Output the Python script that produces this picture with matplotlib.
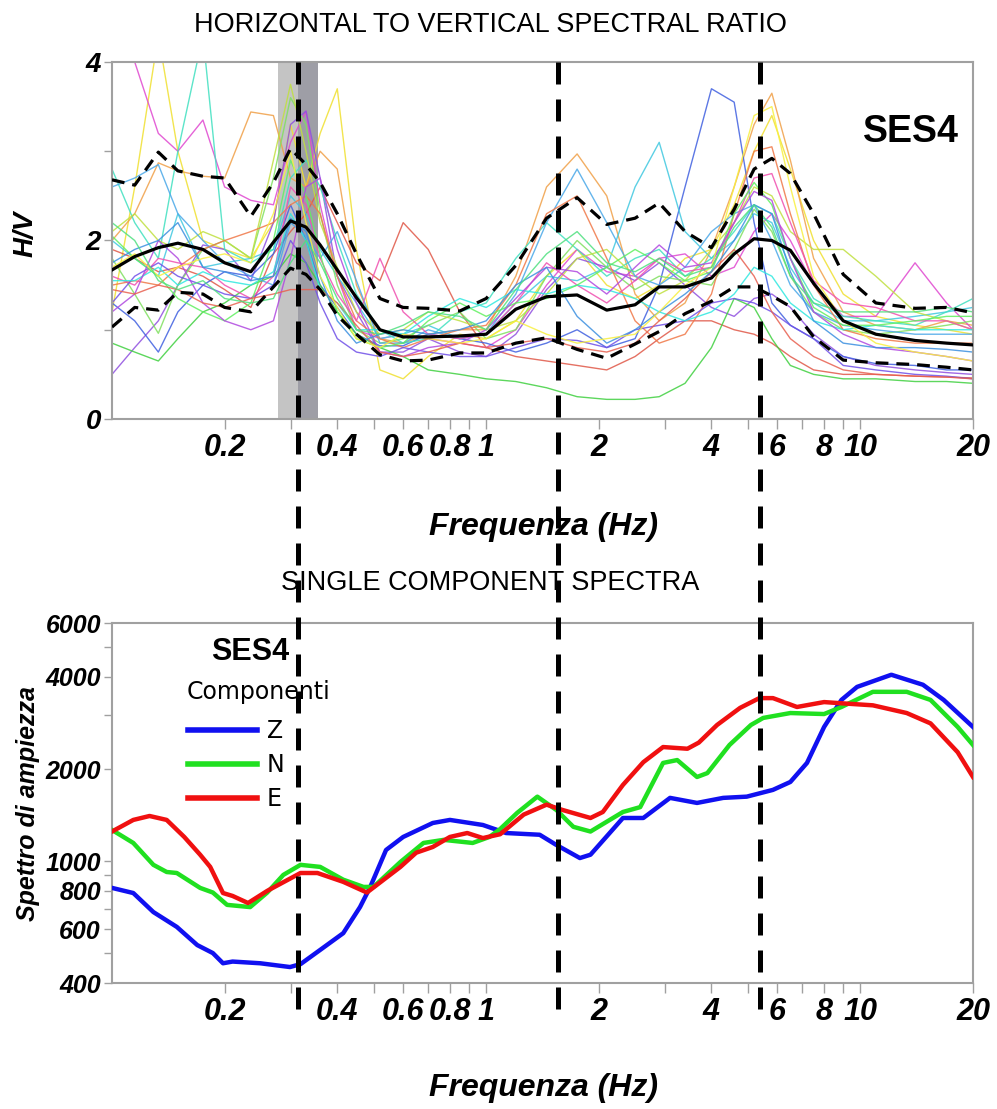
import numpy as np
import matplotlib
matplotlib.use("Agg")
import matplotlib.pyplot as plt
from matplotlib.ticker import FixedLocator, FixedFormatter, NullFormatter
from matplotlib.transforms import blended_transform_factory
from matplotlib.lines import Line2D

plt.rcParams['font.family'] = ['Liberation Sans', 'DejaVu Sans']
plt.rcParams['font.weight'] = 'bold'
plt.rcParams['font.style'] = 'italic'

# ---------------- H/V data ----------------
freq = [0.10, 0.115, 0.133, 0.15, 0.175, 0.2, 0.235, 0.27, 0.30, 0.33, 0.36, 0.40,
        0.45, 0.52, 0.6, 0.7, 0.85, 1.0, 1.2, 1.45, 1.75, 2.1, 2.5, 2.9, 3.4, 4.0,
        4.6, 5.2, 5.8, 6.5, 7.5, 9.0, 11, 14, 17, 20]

hv_mean = [1.67, 1.82, 1.92, 1.97, 1.90, 1.75, 1.65, 1.98, 2.22, 2.15, 1.95, 1.67,
           1.36, 1.00, 0.92, 0.92, 0.93, 0.95, 1.23, 1.37, 1.39, 1.22, 1.28, 1.48, 1.48, 1.58,
           1.85, 2.02, 2.00, 1.89, 1.52, 1.10, 0.95, 0.88, 0.85, 0.83]
hv_upper = [2.68, 2.62, 2.99, 2.78, 2.72, 2.70, 2.27, 2.65, 3.03, 2.85, 2.65, 2.30,
            1.85, 1.35, 1.25, 1.24, 1.21, 1.35, 1.72, 2.25, 2.48, 2.18, 2.25, 2.42, 2.10, 1.92,
            2.35, 2.80, 2.92, 2.75, 2.30, 1.62, 1.30, 1.24, 1.25, 1.19]
hv_lower = [1.03, 1.25, 1.22, 1.42, 1.40, 1.25, 1.20, 1.48, 1.69, 1.62, 1.45, 1.16,
            0.95, 0.72, 0.65, 0.66, 0.74, 0.74, 0.85, 0.91, 0.78, 0.68, 0.84, 0.98, 1.18, 1.32,
            1.48, 1.48, 1.38, 1.26, 0.92, 0.66, 0.63, 0.61, 0.58, 0.55]

win_01 = [1.2, 2.6, 4.3, 3.0, 2.0, 1.9, 1.8, 2.2, 3.3, 2.6, 3.2, 3.7, 1.9, 0.55, 0.45, 0.7, 0.95, 0.9, 1.1, 1.6, 1.9, 1.5, 1.35, 1.5, 1.8, 1.9, 2.4, 3.0, 3.4, 2.8, 2.0, 1.4, 1.15, 1.05, 1.0, 0.95]
win_02 = [2.0, 2.3, 2.87, 2.78, 2.72, 2.70, 3.44, 3.4, 2.7, 2.6, 3.0, 2.8, 1.5, 0.9, 0.85, 0.95, 1.0, 1.0, 1.6, 2.6, 2.97, 2.5, 1.4, 1.1, 1.3, 1.9, 2.6, 3.3, 3.65, 2.9, 1.8, 1.2, 1.05, 1.0, 1.1, 1.05]
win_03 = [1.9, 1.8, 1.65, 1.7, 1.6, 1.45, 1.25, 1.85, 2.1, 2.3, 2.6, 2.2, 1.75, 1.55, 2.2, 1.9, 1.2, 0.8, 0.7, 0.65, 0.6, 0.55, 0.7, 0.9, 1.1, 1.1, 1.0, 0.95, 0.85, 0.7, 0.55, 0.5, 0.5, 0.48, 0.47, 0.46]
win_04 = [4.3, 4.0, 3.2, 3.0, 3.35, 2.6, 2.45, 2.4, 3.1, 3.45, 2.4, 1.6, 1.0, 0.9, 0.95, 0.9, 0.85, 0.8, 1.0, 1.5, 1.9, 1.65, 1.6, 1.8, 1.85, 1.6, 1.7, 2.1, 2.3, 2.0, 1.5, 1.15, 1.15, 1.75, 1.3, 1.0]
win_05 = [0.5, 0.8, 1.1, 1.5, 1.95, 1.9, 1.55, 2.2, 3.3, 3.45, 2.7, 1.6, 1.2, 0.75, 0.75, 0.9, 0.75, 0.7, 0.95, 1.45, 1.8, 1.7, 1.55, 1.75, 1.5, 1.25, 1.15, 1.35, 1.4, 1.25, 0.95, 0.7, 0.6, 0.55, 0.52, 0.5]
win_06 = [1.3, 1.1, 0.75, 1.2, 1.5, 1.65, 1.6, 1.85, 2.4, 2.0, 1.5, 1.25, 0.95, 0.82, 0.82, 0.95, 0.9, 0.85, 0.75, 0.85, 1.0, 0.8, 0.9, 1.5, 2.6, 3.7, 3.55, 2.2, 1.3, 1.05, 0.9, 0.7, 0.62, 0.6, 0.55, 0.55]
win_07 = [2.0, 1.8, 1.6, 2.3, 1.7, 1.75, 1.8, 1.9, 2.5, 2.3, 1.9, 1.6, 1.3, 0.9, 0.95, 1.05, 0.9, 0.95, 1.3, 1.6, 1.55, 1.7, 2.6, 3.1, 2.1, 1.8, 2.0, 2.3, 2.2, 1.7, 1.3, 1.1, 1.1, 1.15, 1.2, 1.25]
win_08 = [2.8, 2.2, 1.8, 3.0, 4.3, 1.9, 1.75, 1.9, 2.7, 2.9, 2.6, 2.0, 1.4, 1.0, 0.85, 0.9, 1.2, 1.3, 1.8, 2.2, 1.9, 1.6, 1.8, 1.9, 1.6, 1.8, 2.1, 2.4, 2.3, 1.8, 1.35, 1.15, 1.1, 1.05, 1.2, 1.35]
win_09 = [1.8, 1.4, 0.96, 1.5, 1.9, 2.0, 1.8, 2.7, 3.6, 3.3, 2.3, 1.5, 1.0, 0.85, 0.9, 1.05, 1.2, 0.9, 1.0, 1.6, 2.0, 1.7, 1.45, 1.6, 1.55, 1.5, 1.9, 2.35, 2.1, 1.6, 1.2, 1.0, 0.95, 1.0, 1.05, 1.1]
win_10 = [0.85, 0.75, 0.65, 0.9, 1.2, 1.3, 1.5, 1.6, 1.85, 1.75, 1.5, 1.2, 0.95, 0.8, 0.7, 0.55, 0.5, 0.45, 0.42, 0.35, 0.25, 0.22, 0.22, 0.25, 0.4, 0.8, 1.35, 1.25, 0.9, 0.6, 0.5, 0.45, 0.45, 0.42, 0.42, 0.4]
win_11 = [2.1, 2.3, 2.0, 1.9, 2.1, 2.0, 1.8, 2.9, 3.75, 3.0, 2.2, 1.7, 1.2, 0.95, 1.0, 1.2, 1.1, 1.0, 1.1, 1.4, 1.8, 1.9, 1.6, 1.4, 1.55, 1.9, 2.2, 2.6, 2.5, 2.1, 1.9, 1.9, 1.6, 1.2, 1.1, 1.0]
win_12 = [2.6, 2.7, 2.85, 2.3, 2.0, 1.75, 1.6, 1.5, 2.2, 2.05, 1.8, 2.1, 1.55, 0.85, 0.85, 1.0, 0.9, 0.95, 1.4, 2.2, 2.8, 2.2, 1.6, 1.5, 1.7, 2.1, 2.3, 2.4, 2.0, 1.5, 1.2, 1.05, 1.0, 0.95, 0.95, 0.95]
win_13 = [1.5, 1.55, 1.5, 1.7, 1.9, 2.0, 2.1, 2.2, 2.4, 2.5, 2.3, 1.6, 1.1, 0.9, 0.8, 0.9, 1.0, 1.05, 1.5, 2.3, 2.5, 1.8, 1.1, 0.85, 0.95, 1.4, 2.3, 3.0, 3.05, 2.3, 1.5, 1.0, 0.9, 0.85, 0.85, 0.85]
win_14 = [1.6, 1.5, 1.8, 1.75, 1.7, 1.5, 1.35, 1.6, 2.6, 2.4, 1.8, 1.4, 1.1, 1.8, 1.2, 0.95, 0.9, 0.95, 1.3, 1.75, 1.5, 1.3, 1.55, 1.8, 1.65, 1.7, 2.2, 2.7, 2.75, 2.2, 1.55, 1.3, 1.25, 1.1, 1.1, 1.0]
win_15 = [1.3, 1.6, 1.75, 1.6, 1.5, 1.4, 1.35, 1.5, 2.0, 1.75, 1.3, 0.9, 0.75, 0.7, 0.8, 0.75, 0.7, 0.7, 0.8, 0.9, 0.88, 0.8, 1.0, 1.05, 1.1, 1.3, 1.35, 1.3, 1.2, 1.05, 0.9, 0.6, 0.55, 0.5, 0.48, 0.45]
win_16 = [1.55, 1.55, 1.7, 1.5, 1.65, 1.55, 1.5, 1.65, 2.3, 2.0, 1.45, 1.3, 1.0, 1.0, 0.95, 1.15, 1.35, 1.25, 1.45, 1.4, 1.5, 1.45, 1.35, 1.2, 1.1, 1.2, 1.4, 1.7, 1.6, 1.3, 1.1, 1.0, 1.05, 1.0, 1.0, 1.0]
win_17 = [2.05, 1.8, 1.6, 1.35, 1.2, 1.1, 1.3, 2.0, 2.9, 2.5, 1.85, 1.2, 0.9, 0.8, 0.85, 1.1, 1.3, 1.15, 1.3, 1.35, 1.5, 1.7, 1.9, 1.75, 1.55, 1.65, 2.3, 2.65, 2.4, 1.8, 1.25, 1.05, 1.05, 1.1, 1.15, 1.15]
win_18 = [1.2, 1.4, 2.0, 1.8, 1.3, 1.1, 1.0, 1.1, 1.8, 2.6, 2.7, 1.9, 1.3, 0.75, 0.7, 0.8, 0.85, 1.0, 1.35, 1.7, 1.65, 1.4, 1.7, 1.95, 1.7, 1.75, 2.2, 2.55, 2.45, 1.8, 1.2, 0.95, 0.8, 0.75, 0.7, 0.65]
win_19 = [1.45, 1.4, 1.5, 1.45, 1.3, 1.25, 1.35, 1.4, 1.45, 1.45, 1.45, 1.3, 1.05, 0.75, 0.7, 0.75, 0.85, 0.8, 0.85, 0.9, 0.8, 0.75, 0.85, 1.1, 1.35, 1.65, 1.9, 1.6, 1.2, 0.9, 0.7, 0.55, 0.5, 0.48, 0.47, 0.45]
win_20 = [1.75, 1.9, 2.0, 2.2, 1.7, 1.65, 1.55, 1.6, 2.25, 2.1, 1.6, 1.1, 0.85, 0.95, 1.0, 0.95, 1.0, 1.1, 1.5, 1.7, 1.15, 0.85, 1.0, 1.2, 1.4, 1.65, 2.0, 2.4, 2.3, 1.65, 1.1, 0.85, 0.8, 0.8, 0.78, 0.75]
win_21 = [1.7, 1.85, 1.6, 1.7, 1.8, 1.85, 1.75, 2.3, 3.0, 2.2, 1.6, 1.25, 0.9, 0.8, 0.95, 0.9, 0.85, 0.9, 1.1, 0.95, 0.85, 0.9, 0.95, 1.2, 1.5, 1.7, 2.6, 3.4, 3.5, 2.6, 1.6, 1.1, 0.85, 0.75, 0.7, 0.65]
win_22 = [2.2, 2.0, 1.55, 1.45, 1.55, 1.35, 1.3, 1.35, 1.75, 2.0, 1.75, 1.35, 1.0, 0.95, 1.05, 1.2, 1.15, 1.0, 1.45, 1.85, 2.1, 1.75, 1.65, 1.8, 1.6, 1.7, 2.15, 2.4, 2.15, 1.6, 1.3, 1.2, 1.2, 1.2, 1.25, 1.2]

windows = [win_01, win_02, win_03, win_04, win_05, win_06, win_07, win_08, win_09, win_10, win_11,
           win_12, win_13, win_14, win_15, win_16, win_17, win_18, win_19, win_20, win_21, win_22]
win_colors = ['#f0e030', '#f0a048', '#e05848', '#e048d0', '#9050e0', '#4060e0', '#40c8e0',
              '#40e0c0', '#80e060', '#40d040', '#c0e040', '#4aa8e8', '#f07848', '#f050b0',
              '#7050e8', '#30e8e0', '#60f060', '#b048e0', '#e86050', '#3c90e0', '#f8f040', '#50e080']

# ---------------- single component spectra ----------------
z_freq = [0.10, 0.114, 0.129, 0.149, 0.169, 0.186, 0.198, 0.21, 0.249, 0.299, 0.319, 0.36, 0.415,
          0.46, 0.49, 0.54, 0.6, 0.72, 0.8, 0.98, 1.13, 1.39, 1.54, 1.78, 1.9, 2.32, 2.63, 3.1,
          3.66, 4.3, 4.97, 5.84, 6.5, 7.2, 8.0, 8.9, 9.8, 12.1, 14.7, 16.7, 20]
z_amp = [818, 787, 682, 610, 532, 501, 464, 470, 464, 451, 461, 513, 582, 708, 824, 1088, 1200,
         1333, 1364, 1313, 1236, 1220, 1130, 1024, 1050, 1384, 1384, 1610, 1550, 1610, 1625, 1710,
         1815, 2094, 2745, 3364, 3710, 4065, 3770, 3364, 2745]

n_freq = [0.10, 0.114, 0.129, 0.14, 0.149, 0.172, 0.186, 0.203, 0.234, 0.26, 0.287, 0.319, 0.36,
          0.415, 0.47, 0.5, 0.59, 0.68, 0.77, 0.92, 1.02, 1.09, 1.21, 1.37, 1.54, 1.71, 1.9, 2.32,
          2.58, 2.97, 3.24, 3.66, 3.9, 4.47, 5.1, 5.5, 6.5, 8.0, 8.9, 10.8, 13.3, 15.4, 18.2, 20]
n_amp = [1265, 1147, 973, 922, 915, 818, 790, 720, 708, 790, 902, 973, 958, 870, 824, 824, 994,
         1147, 1174, 1147, 1200, 1274, 1438, 1625, 1470, 1295, 1250, 1448, 1502, 2094, 2140, 1884,
         1940, 2397, 2786, 2938, 3048, 3025, 3190, 3575, 3575, 3364, 2745, 2397]

e_freq = [0.10, 0.114, 0.126, 0.14, 0.156, 0.172, 0.183, 0.198, 0.21, 0.231, 0.26, 0.319, 0.354,
          0.415, 0.48, 0.59, 0.65, 0.72, 0.8, 0.89, 0.98, 1.09, 1.26, 1.45, 1.6, 1.9, 2.05, 2.32,
          2.63, 2.97, 3.45, 3.7, 4.14, 4.77, 5.37, 5.84, 6.77, 8.0, 8.9, 10.8, 13.3, 15.4, 18.2, 20]
e_amp = [1250, 1364, 1405, 1364, 1200, 1050, 958, 787, 770, 730, 800, 915, 915, 856, 790, 958,
         1066, 1113, 1200, 1236, 1190, 1225, 1420, 1530, 1470, 1384, 1448, 1775, 2106, 2360, 2330,
         2440, 2786, 3168, 3410, 3410, 3190, 3310, 3280, 3230, 3048, 2820, 2270, 1884]

peak_freqs = [0.314, 1.56, 5.4]
band_light = (0.278, 0.314)
band_dark = (0.314, 0.356)

x_ticks = [0.2, 0.4, 0.6, 0.8, 1, 2, 4, 6, 8, 10, 20]
x_tick_labels = ['0.2', '0.4', '0.6', '0.8', '1', '2', '4', '6', '8', '10', '20']
x_minor = [0.3, 0.5, 0.7, 0.9, 3, 5, 7, 9]
amp_ticks = [400, 600, 800, 1000, 2000, 4000, 6000]
amp_minor = [500, 700, 900, 3000, 5000]

# ---------------- figure ----------------
W, H = 997, 1109
fig = plt.figure(figsize=(W / 100, H / 100), dpi=100)
ax1 = fig.add_axes([112 / W, 1 - 419 / H, 861 / W, 357 / H])
ax2 = fig.add_axes([112 / W, 1 - 983 / H, 861 / W, 360 / H])

spine_col = '#a0a0a0'


def style_freq_axis(ax):
    ax.set_xscale('log')
    ax.set_xlim(0.1, 20)
    ax.xaxis.set_major_locator(FixedLocator(x_ticks))
    ax.xaxis.set_major_formatter(FixedFormatter(x_tick_labels))
    ax.xaxis.set_minor_locator(FixedLocator(x_minor))
    ax.xaxis.set_minor_formatter(NullFormatter())
    for s in ax.spines.values():
        s.set_color(spine_col)
        s.set_linewidth(1.5)
    ax.tick_params(axis='x', which='both', direction='out', length=7, width=1,
                   color=spine_col, labelsize=22, pad=3)
    ax.tick_params(axis='y', which='both', direction='out', length=6, width=1,
                   color=spine_col, pad=2)


# top: H/V
ax1.axvspan(*band_light, color='#c4c4c4', lw=0, zorder=1)
ax1.axvspan(*band_dark, color='#9e9ea6', lw=0, zorder=1)
for vals, col in zip(windows, win_colors):
    ax1.plot(freq, vals, color=col, lw=1.0, alpha=0.85, zorder=2)
ax1.plot(freq, hv_mean, color='black', lw=2.3, zorder=4)
ax1.plot(freq, hv_upper, color='black', lw=2.3, ls=(0, (4, 2.5)), zorder=4)
ax1.plot(freq, hv_lower, color='black', lw=2.3, ls=(0, (4, 2.5)), zorder=4)
style_freq_axis(ax1)
ax1.set_ylim(0, 4)
ax1.yaxis.set_major_locator(FixedLocator([0, 2, 4]))
ax1.yaxis.set_minor_locator(FixedLocator([1, 3]))
ax1.tick_params(axis='y', labelsize=20)
ax1.text(0.928, 0.804, 'SES4', transform=ax1.transAxes, ha='center', va='center',
         fontsize=27, fontweight='bold', fontstyle='normal')

# bottom: spectra
ax2.plot(z_freq, z_amp, color='#1010f0', lw=3.2, label='Z', zorder=3)
ax2.plot(n_freq, n_amp, color='#20e020', lw=3.2, label='N', zorder=3)
ax2.plot(e_freq, e_amp, color='#f01010', lw=3.2, label='E', zorder=3)
style_freq_axis(ax2)
ax2.set_yscale('log')
ax2.set_ylim(400, 6000)
ax2.yaxis.set_major_locator(FixedLocator(amp_ticks))
ax2.yaxis.set_major_formatter(FixedFormatter([str(v) for v in amp_ticks]))
ax2.yaxis.set_minor_locator(FixedLocator(amp_minor))
ax2.yaxis.set_minor_formatter(NullFormatter())
ax2.tick_params(axis='y', labelsize=18)
ax2.text(0.160, 0.919, 'SES4', transform=ax2.transAxes, ha='center', va='center',
         fontsize=22, fontweight='bold', fontstyle='normal')
leg_font = {'family': 'DejaVu Sans', 'weight': 'normal', 'style': 'normal', 'size': 17}
ax2.text(0.087, 0.808, 'Componenti', transform=ax2.transAxes, ha='left', va='center',
         fontdict=leg_font)
leg = ax2.legend(loc='upper left', bbox_to_anchor=(0.088, 0.732), frameon=False,
                 prop=leg_font, handlelength=2.95, handletextpad=0.4, labelspacing=0.42,
                 borderpad=0, borderaxespad=0)
for h in leg.legend_handles:
    h.set_linewidth(4)

# texts
fig.text(490 / W, 1 - 25 / H, 'HORIZONTAL TO VERTICAL SPECTRAL RATIO', ha='center', va='center',
         fontsize=19.5, fontweight='normal', fontstyle='normal')
fig.text(490 / W, 1 - 583 / H, 'SINGLE COMPONENT SPECTRA', ha='center', va='center',
         fontsize=19.5, fontweight='normal', fontstyle='normal')
fig.text(543 / W, 1 - 527 / H, 'Frequenza (Hz)', ha='center', va='center', fontsize=23)
fig.text(543 / W, 1 - 1088 / H, 'Frequenza (Hz)', ha='center', va='center', fontsize=23)
fig.text(26 / W, 1 - 234 / H, 'H/V', ha='center', va='center', rotation=90, fontsize=20)
fig.text(28 / W, 1 - 804 / H, 'Spettro di ampiezza', ha='center', va='center', rotation=90,
         fontsize=18)

# vertical dashed lines across both panels
trans = blended_transform_factory(ax1.transData, fig.transFigure)
for f in peak_freqs:
    fig.add_artist(Line2D([f, f], [1 - 62 / H, 1 - 1012 / H], transform=trans, color='black',
                          lw=3.6, ls=(0, (4.4, 3.0)), zorder=10))

fig.savefig('out.png', dpi=100)
